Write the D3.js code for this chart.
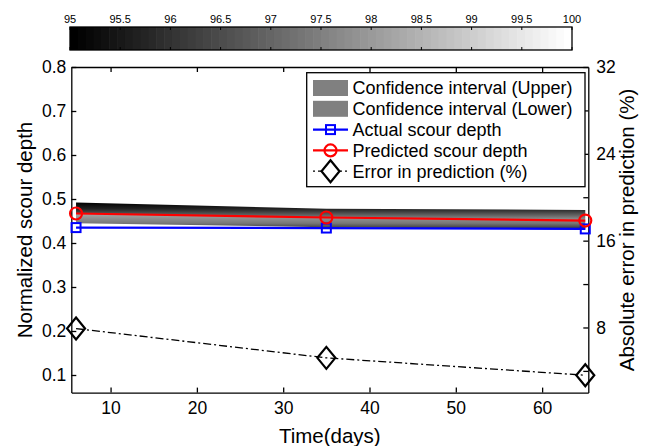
<!DOCTYPE html>
<html>
<head>
<meta charset="utf-8">
<script src="https://cdnjs.cloudflare.com/ajax/libs/d3/7.8.5/d3.min.js"></script>
<style>
  body { margin: 0; background: #fff; }
  svg text { font-family: "Liberation Sans", Arial, Helvetica, sans-serif; fill: #000; }
  .axis path, .axis line { stroke: #000; stroke-width: 1.3; }
</style>
</head>
<body>
<svg id="chart" width="649" height="446"></svg>
<script>
// Chart data
const days = [6, 35, 65];
const actualDepth = [0.435, 0.434, 0.432];
const predictedDepth = [0.467, 0.458, 0.451];
const upperBound = [0.492, 0.478, 0.475];
const lowerBound = [0.445, 0.436, 0.430];
const errorPct = [7.9, 5.2, 3.6];

const xTicks = [10, 20, 30, 40, 50, 60];
const yLeftTicks = [0.1, 0.2, 0.3, 0.4, 0.5, 0.6, 0.7, 0.8];
const yRightTicks = [4, 8, 12, 16, 20, 24, 28, 32];
const cbTicks = [95, 95.5, 96, 96.5, 97, 97.5, 98, 98.5, 99, 99.5, 100];

const legendItems = [
    { label: 'Confidence interval (Upper)', type: 'patch' },
    { label: 'Confidence interval (Lower)', type: 'patch' },
    { label: 'Actual scour depth', type: 'square' },
    { label: 'Predicted scour depth', type: 'circle' },
    { label: 'Error in prediction (%)', type: 'diamond' }
];

// Layout
const plot = { left: 71.3, right: 588.3, top: 67, bottom: 392.6 };
const svg = d3.select('#chart');

const x = d3.scaleLinear().domain([5.45, 65.35]).range([plot.left, plot.right]);
const yL = d3.scaleLinear().domain([0.06, 0.8]).range([plot.bottom, plot.top]);
const yR = d3.scaleLinear().domain([2, 32]).range([plot.bottom, plot.top]);

// Colorbar on top
const cbX = d3.scaleLinear().domain([95, 100]).range([70, 572]);
const cbTop = 27, cbBottom = 50;
const nColors = 64;
const cbStep = (100 - 95) / nColors;
svg.append('g').selectAll('rect')
    .data(d3.range(nColors))
    .enter()
    .append('rect')
    .attr('x', i => cbX(95 + i * cbStep))
    .attr('y', cbTop)
    .attr('width', cbX(95 + cbStep) - cbX(95) + 0.6)
    .attr('height', cbBottom - cbTop)
    .attr('fill', i => d3.rgb(255 * i / (nColors - 1), 255 * i / (nColors - 1), 255 * i / (nColors - 1)));

svg.append('rect')
    .attr('x', cbX(95)).attr('y', cbTop)
    .attr('width', cbX(100) - cbX(95)).attr('height', cbBottom - cbTop)
    .attr('fill', 'none').attr('stroke', '#000').attr('stroke-width', 1.3);

const cbTickG = svg.append('g');
cbTicks.forEach(t => {
    cbTickG.append('line').attr('x1', cbX(t)).attr('x2', cbX(t))
        .attr('y1', cbTop).attr('y2', cbTop + 3).attr('stroke', '#000');
    cbTickG.append('line').attr('x1', cbX(t)).attr('x2', cbX(t))
        .attr('y1', cbBottom - 3).attr('y2', cbBottom).attr('stroke', '#000');
    cbTickG.append('text')
        .attr('x', cbX(t)).attr('y', 23)
        .attr('text-anchor', 'middle')
        .style('font-size', '11px')
        .text(t);
});

// Confidence band gradients
const defs = svg.append('defs');
const gUp = defs.append('linearGradient').attr('id', 'gradUpper')
    .attr('x1', 0).attr('y1', 0).attr('x2', 0).attr('y2', 1);
gUp.append('stop').attr('offset', '0%').attr('stop-color', '#000');
gUp.append('stop').attr('offset', '35%').attr('stop-color', '#222');
gUp.append('stop').attr('offset', '100%').attr('stop-color', '#9a9a9a');
const gLo = defs.append('linearGradient').attr('id', 'gradLower')
    .attr('x1', 0).attr('y1', 0).attr('x2', 0).attr('y2', 1);
gLo.append('stop').attr('offset', '0%').attr('stop-color', '#a8a8a8');
gLo.append('stop').attr('offset', '60%').attr('stop-color', '#777');
gLo.append('stop').attr('offset', '100%').attr('stop-color', '#2a2a2a');

const upperArea = d3.area()
    .x((d, i) => x(days[i]))
    .y0((d, i) => yL(predictedDepth[i]))
    .y1((d, i) => yL(upperBound[i]));
const lowerArea = d3.area()
    .x((d, i) => x(days[i]))
    .y0((d, i) => yL(lowerBound[i]))
    .y1((d, i) => yL(predictedDepth[i]));

svg.append('path').datum(days).attr('d', upperArea).attr('fill', 'url(#gradUpper)');
svg.append('path').datum(days).attr('d', lowerArea).attr('fill', 'url(#gradLower)');

// Axes
svg.append('g').attr('class', 'axis')
    .attr('transform', 'translate(0,' + plot.bottom + ')')
    .call(d3.axisBottom(x).tickValues(xTicks).tickSizeInner(-5).tickSizeOuter(0).tickPadding(9));
svg.append('g').attr('class', 'axis')
    .attr('transform', 'translate(0,' + plot.top + ')')
    .call(d3.axisTop(x).tickValues(xTicks).tickSizeInner(-5).tickSizeOuter(0).tickFormat(''));
svg.append('g').attr('class', 'axis')
    .attr('transform', 'translate(' + plot.left + ',0)')
    .call(d3.axisLeft(yL).tickValues(yLeftTicks).tickSizeInner(-5).tickSizeOuter(0).tickPadding(5)
        .tickFormat(d3.format('.1f')));
svg.append('g').attr('class', 'axis')
    .attr('transform', 'translate(' + plot.right + ',0)')
    .call(d3.axisRight(yR).tickValues(yRightTicks).tickSizeInner(-5).tickSizeOuter(0).tickPadding(8)
        .tickFormat(d => d % 8 === 0 ? d : ''));

svg.selectAll('.axis text').style('font-size', '17.5px');

// Axis titles
svg.append('text')
    .attr('x', (plot.left + plot.right) / 2).attr('y', 443)
    .attr('text-anchor', 'middle').style('font-size', '20.5px')
    .text('Time(days)');
svg.append('text')
    .attr('transform', 'translate(32,230) rotate(-90)')
    .attr('text-anchor', 'middle').style('font-size', '20.5px')
    .text('Normalized scour depth');
svg.append('text')
    .attr('transform', 'translate(634,230) rotate(-90)')
    .attr('text-anchor', 'middle').style('font-size', '20.5px')
    .text('Absolute error in prediction (%)');

// Lines
const lineL = d3.line().x((d, i) => x(days[i])).y(d => yL(d));
const lineR = d3.line().x((d, i) => x(days[i])).y(d => yR(d));

svg.append('path').datum(errorPct).attr('d', lineR)
    .attr('fill', 'none').attr('stroke', '#000').attr('stroke-width', 1.3)
    .attr('stroke-dasharray', '8,3,2,3');
svg.append('path').datum(actualDepth).attr('d', lineL)
    .attr('fill', 'none').attr('stroke', '#0000ff').attr('stroke-width', 2.2);
svg.append('path').datum(predictedDepth).attr('d', lineL)
    .attr('fill', 'none').attr('stroke', '#ff0000').attr('stroke-width', 2.2);

// Markers
function diamondPath(cx, cy) {
    return 'M' + cx + ',' + (cy - 11) + 'L' + (cx + 9) + ',' + cy + 'L' + cx + ',' + (cy + 11) + 'L' + (cx - 9) + ',' + cy + 'Z';
}

svg.append('g').selectAll('rect')
    .data(actualDepth).enter().append('rect')
    .attr('x', (d, i) => x(days[i]) - 4.5).attr('y', d => yL(d) - 4.5)
    .attr('width', 9).attr('height', 9)
    .attr('fill', 'none').attr('stroke', '#0000ff').attr('stroke-width', 2);
svg.append('g').selectAll('circle')
    .data(predictedDepth).enter().append('circle')
    .attr('cx', (d, i) => x(days[i])).attr('cy', d => yL(d)).attr('r', 6)
    .attr('fill', 'none').attr('stroke', '#ff0000').attr('stroke-width', 2.2);
svg.append('g').selectAll('path')
    .data(errorPct).enter().append('path')
    .attr('d', (d, i) => diamondPath(x(days[i]), yR(d)))
    .attr('fill', 'none').attr('stroke', '#000').attr('stroke-width', 2.2);

// Legend
const lg = svg.append('g');
lg.append('rect')
    .attr('x', 306.7).attr('y', 72.7).attr('width', 278.3).attr('height', 114)
    .attr('fill', '#fff').attr('stroke', '#000').attr('stroke-width', 1.3);

legendItems.forEach((item, i) => {
    const cy = 88 + i * 20.8;
    const x0 = 313, x1 = 348, cx = (x0 + x1) / 2;
    if (item.type === 'patch') {
        lg.append('rect').attr('x', x0).attr('y', cy - 8).attr('width', x1 - x0).attr('height', 16)
            .attr('fill', '#808080');
    } else if (item.type === 'square') {
        lg.append('line').attr('x1', x0).attr('x2', x1).attr('y1', cy).attr('y2', cy)
            .attr('stroke', '#0000ff').attr('stroke-width', 2.2);
        lg.append('rect').attr('x', cx - 4.5).attr('y', cy - 4.5).attr('width', 9).attr('height', 9)
            .attr('fill', 'none').attr('stroke', '#0000ff').attr('stroke-width', 2);
    } else if (item.type === 'circle') {
        lg.append('line').attr('x1', x0).attr('x2', x1).attr('y1', cy).attr('y2', cy)
            .attr('stroke', '#ff0000').attr('stroke-width', 2.2);
        lg.append('circle').attr('cx', cx).attr('cy', cy).attr('r', 6)
            .attr('fill', 'none').attr('stroke', '#ff0000').attr('stroke-width', 2.2);
    } else {
        lg.append('line').attr('x1', x0).attr('x2', x1).attr('y1', cy).attr('y2', cy)
            .attr('stroke', '#000').attr('stroke-width', 1.3).attr('stroke-dasharray', '2,3,8,3');
        lg.append('path').attr('d', diamondPath(cx, cy))
            .attr('fill', '#fff').attr('stroke', '#000').attr('stroke-width', 2.2);
    }
    lg.append('text')
        .attr('x', 352.5).attr('y', cy).attr('dy', '0.35em')
        .style('font-size', '18px')
        .text(item.label);
});
</script>
</body>
</html>
